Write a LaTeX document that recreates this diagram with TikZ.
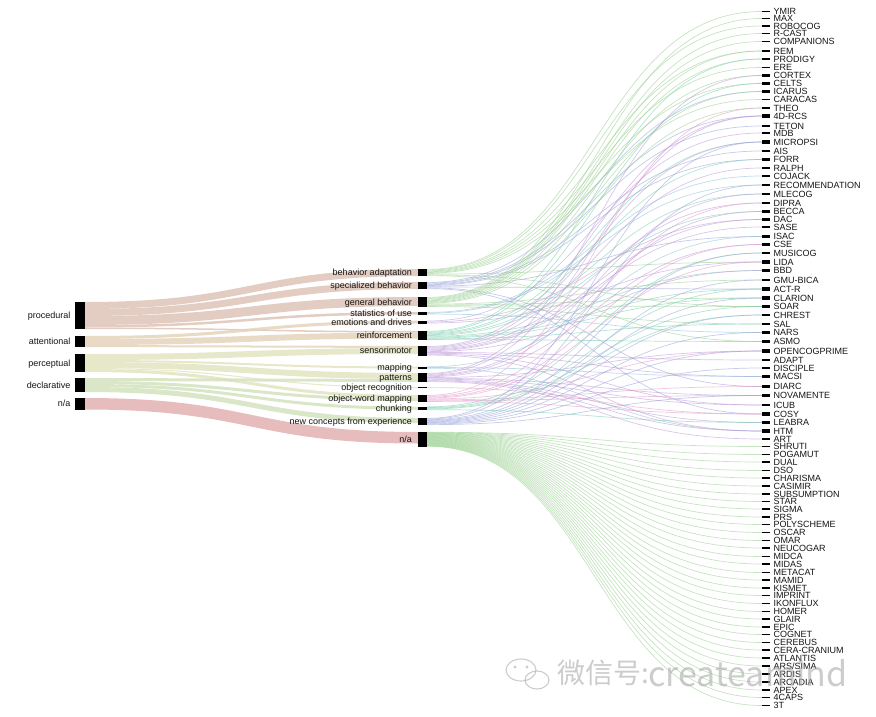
\documentclass[tikz,border=0pt]{standalone}
\usepackage{fontspec}
\setmainfont{Liberation Sans}
\newfontfamily\cjkfont{Noto Sans CJK SC}
\usetikzlibrary{calc}
\pgfdeclarelayer{bg}
\pgfsetlayers{bg,main}
\definecolor{cProc}{RGB}{222,196,184}
\definecolor{cAtt}{RGB}{228,212,186}
\definecolor{cPer}{RGB}{226,228,192}
\definecolor{cDec}{RGB}{212,226,190}
\definecolor{cNa}{RGB}{226,176,176}
\definecolor{gGreen}{RGB}{150,205,140}
\definecolor{gBlue}{RGB}{150,160,215}
\definecolor{gTeal}{RGB}{120,205,175}
\definecolor{gLilac}{RGB}{185,150,215}
\definecolor{gPink}{RGB}{225,150,200}
\definecolor{gSky}{RGB}{140,190,215}
\definecolor{wmgray}{RGB}{170,170,170}
\definecolor{txt}{RGB}{20,20,20}
\newcommand\band[6]{%
  \path ($(#1.north east)+(0,#2)$) coordinate (bs) ($(#3.north west)+(0,#4)$) coordinate (be);
  \draw[bandline,line width=#5pt,draw=#6] (bs) .. controls ($(bs)+(166,0)$) and ($(be)+(-166,0)$) .. (be);}
\newcommand\fan[4]{%
  \foreach \r [count=\i] in {#4}{%
    \pgfmathsetmacro\f{(\i-0.5)/#3}
    \path ($(#1.north east)!\f!(#1.south east)$) coordinate (fs);
    \draw[lnk,draw=#2] (fs) .. controls ($(fs)+(167,0)$) and ($(r\r.west)+(-167,0)$) .. (r\r.west);}}
\begin{document}
\begin{tikzpicture}[x=1pt,y=-1pt,
  blk/.style={fill=black,draw=none,inner sep=0pt,outer sep=0pt},
  lbl/.style={font=\fontsize{9}{10}\selectfont,inner sep=0pt,text=txt},
  bandline/.style={draw opacity=0.85},
  lnk/.style={line width=0.7pt,draw opacity=0.55},
  wm/.style={text=wmgray,inner sep=0pt,text opacity=0.6}]
\useasboundingbox (0,0) rectangle (876,717);
% left nodes
\foreach \n/\lab/\t/\b in {1/procedural/302/329,2/attentional/336/347,3/perceptual/354/372,4/declarative/378/392,5/n\slash a/398/409.5}{
  \pgfmathsetmacro\hh{\b-\t}
  \pgfmathsetmacro\cc{(\b+\t)/2}
  \node[blk,minimum width=10pt,minimum height=\hh pt] (L\n) at (80,\cc) {};
  \node[lbl,anchor=base east] (tL\n) at (70.5,\cc+3.2) {\lab};
}
% middle nodes
\foreach \n/\lab/\t/\b in {1/behavior adaptation/269/276,2/specialized behavior/282/289,3/general behavior/297/307,4/statistics of use/312/314.5,5/emotions and drives/320.5/323.5,6/reinforcement/331/340,7/sensorimotor/346/355.5,8/mapping/366.5/368.5,9/patterns/373/382,10/object recognition/387/388.2,11/object-word mapping/395/402,12/chunking/406.5/410,13/new concepts from experience/418/425,14/n\slash a/432/446.5}{
  \pgfmathsetmacro\hh{\b-\t}
  \pgfmathsetmacro\cc{(\b+\t)/2}
  \node[blk,minimum width=9pt,minimum height=\hh pt] (m\n) at (422.5,\cc) {};
  \node[lbl,anchor=base east] (tm\n) at (412,\cc+3.2) {\lab};
}
% right nodes
\foreach \n/\lab/\y/\k in {1/YMIR/11.5/1,2/MAX/18.5/1,3/ROBOCOG/26/1,4/R-CAST/33.5/1,5/COMPANIONS/41.5/1,6/REM/51/2,7/PRODIGY/59/2,8/ERE/67.5/1,9/CORTEX/75.5/2,10/CELTS/83.5/2,11/ICARUS/91.5/2,12/CARACAS/99.5/1,13/THEO/108/2,14/4D-RCS/116/3,15/TETON/126/1,16/MDB/133/1,17/MICROPSI/142/3,18/AIS/151/1,19/FORR/159.5/2,20/RALPH/168/1,21/COJACK/176/1,22/RECOMMENDATION/185/2,23/MLECOG/194/2,24/DIPRA/203/2,25/BECCA/211.5/2,26/DAC/219.5/2,27/SASE/227/1,28/ISAC/236.5/2,29/CSE/244.5/2,30/MUSICOG/253/2,31/LIDA/262/3,32/BBD/270.5/2,33/GMU-BICA/280/2,34/ACT-R/289/3,35/CLARION/298/3,36/SOAR/306.5/3,37/CHREST/315/2,38/SAL/324/2,39/NARS/332.5/2,40/ASMO/341.5/2,41/OPENCOGPRIME/351/3,42/ADAPT/360/1,43/DISCIPLE/368/1,44/MACSI/376.5/2,45/DIARC/386.5/2,46/NOVAMENTE/395.5/3,47/ICUB/405/2,48/COSY/414/3,49/LEABRA/422.5/2,50/HTM/431/3,51/ART/439/1,52/SHRUTI/446.5/1,53/POGAMUT/454.5/1,54/DUAL/462/1,55/DSO/470.5/1,56/CHARISMA/478/1,57/CASIMIR/486/1,58/SUBSUMPTION/494/1,59/STAR/501.5/1,60/SIGMA/509/1,61/PRS/517/1,62/POLYSCHEME/524.5/1,63/OSCAR/532.5/1,64/OMAR/540.5/1,65/NEUCOGAR/548/1,66/MIDCA/556.5/1,67/MIDAS/564/1,68/METACAT/572.5/1,69/MAMID/580/1,70/KISMET/588/1,71/IMPRINT/595.5/1,72/IKONFLUX/603.5/1,73/HOMER/611.5/1,74/GLAIR/619/1,75/EPIC/627/1,76/COGNET/634.5/1,77/CEREBUS/642.5/1,78/CERA-CRANIUM/650/1,79/ATLANTIS/658/1,80/ARS\slash SIMA/666/1,81/ARDIS/674/1,82/ARCADIA/682/1,83/APEX/690/1,84/4CAPS/697.5/1,85/3T/705.5/1}{
  \pgfmathsetmacro\hh{1+0.8*\k}
  \node[blk,minimum width=8pt,minimum height=\hh pt] (r\n) at (766,\y) {};
  \node[lbl,anchor=base west] (tr\n) at (773.5,\y+3.2) {\lab};
}
\begin{pgfonlayer}{bg}
% left -> middle bands
\band{L1}{3.5}{m1}{3.5}{7}{cProc}
\band{L1}{10.5}{m2}{3.5}{7}{cProc}
\band{L1}{18.5}{m3}{4.5}{9}{cProc}
\band{L1}{24.25}{m4}{1.25}{2.5}{cProc}
\band{L1}{26.25}{m6}{0.75}{1.5}{cProc}
\band{L2}{1.5}{m5}{1.5}{3}{cAtt}
\band{L2}{6}{m6}{4.5}{6}{cAtt}
\band{L2}{10}{m7}{1}{2}{cAtt}
\band{L3}{3}{m7}{5}{6}{cPer}
\band{L3}{7}{m8}{1}{2}{cPer}
\band{L3}{11}{m9}{3}{6}{cPer}
\band{L3}{14.5}{m10}{0.6}{1}{cPer}
\band{L3}{16.5}{m11}{1.5}{3}{cPer}
\band{L4}{1.5}{m9}{7.5}{3}{cDec}
\band{L4}{4.5}{m11}{4.5}{3}{cDec}
\band{L4}{7.5}{m12}{1.75}{3}{cDec}
\band{L4}{11.5}{m13}{2.5}{5}{cDec}
\band{L5}{5.75}{m14}{5.75}{11.5}{cNa}
% middle -> right links
\fan{m1}{gGreen}{9}{1,3,6,8,10,12,31,36,40}
\fan{m2}{gBlue}{9}{11,14,15,18,19,28,34,45,48}
\fan{m3}{gGreen}{12}{2,4,5,6,7,9,11,13,33,35,36,38}
\fan{m4}{gSky}{3}{21,22,39}
\fan{m5}{gLilac}{3}{16,26,31}
\fan{m6}{gTeal}{11}{7,10,17,19,23,25,32,34,35,38,40}
\fan{m7}{gLilac}{11}{14,17,20,24,26,27,32,42,44,47,50}
\fan{m8}{gSky}{3}{28,44,50}
\fan{m9}{gLilac}{11}{9,14,23,25,29,41,46,47,49,50,51}
\fan{m10}{gPink}{1}{48}
\fan{m11}{gPink}{8}{13,24,29,31,41,45,46,48}
\fan{m12}{gTeal}{5}{30,34,36,37,49}
\fan{m13}{gBlue}{10}{17,22,30,33,35,37,39,41,43,46}
\fan{m14}{gGreen}{34}{52,...,85}
\end{pgfonlayer}
% watermark
\draw[wmgray,line width=1.1pt,opacity=0.6] (521,670) ellipse [x radius=15pt,y radius=11pt];
\draw[wmgray,line width=1.1pt,opacity=0.6] (537,680) ellipse [x radius=12pt,y radius=9pt];
\fill[wmgray,opacity=0.6] (515,667) circle [radius=1.6pt] (527,667) circle [radius=1.6pt];
\node[wm,anchor=west] (wm1) at (557,673) {\cjkfont\fontsize{28}{30}\selectfont 微信号:};
\node[wm,anchor=west] (wm2) at (648,673) {\cjkfont\fontsize{34}{36}\selectfont createamind};
\end{tikzpicture}
\end{document}
